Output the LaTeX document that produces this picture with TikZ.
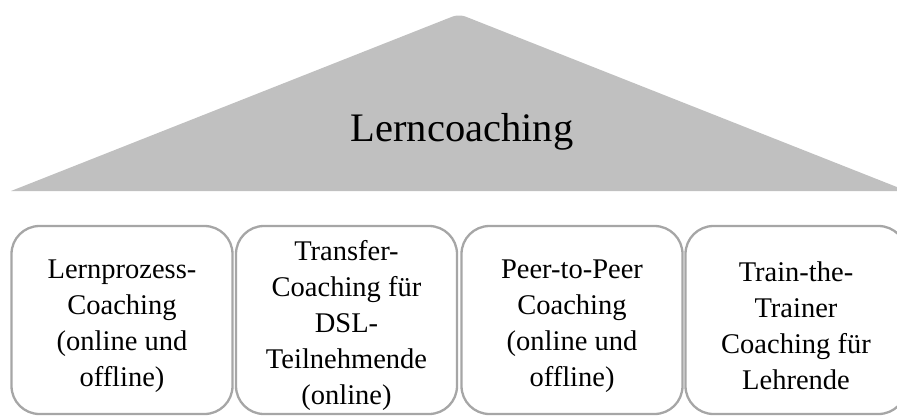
\documentclass[tikz,border=0pt]{standalone}
\usepackage{fontspec}
\setmainfont{Liberation Serif}
\definecolor{roofgray}{RGB}{192,192,192}
\definecolor{boxgray}{RGB}{166,166,166}

\tikzset{
	coachbox/.style={draw=boxgray,line width=2.3pt,fill=white,rounded corners=28pt,
		minimum width=221pt,minimum height=188pt,inner sep=0pt},
	coachtext/.style={inner sep=0pt,align=center,font=\fontsize{28.5}{36}\selectfont},
}

\begin{document}
\begin{tikzpicture}[x=1pt,y=-1pt]
			\useasboundingbox (0,0) rectangle (897,416);
			\clip (0,0) rectangle (897,416);
			% Dach
			\fill[roofgray] (11,191) [rounded corners=7pt] -- (459,14) [sharp corners] -- (907,191) -- cycle;
			\node[anchor=base,font=\fontsize{40.5}{48}\selectfont] (dach) at (462,141) {Lerncoaching};
			% Saeulen
			\node[coachbox] (lernprozess) at (122,320) {};
			\node[coachtext] (lernprozesstext) at ([yshift=-6pt]lernprozess.center) {Lernprozess-\\Coaching\\(online und\\offline)};
			\node[coachbox] (transfer) at (346.5,320) {};
			\node[coachtext] (transfertext) at ([yshift=-5pt]transfer.center) {Transfer-\\Coaching für\\DSL-\\Teilnehmende\\(online)};
			\node[coachbox] (peer) at (572,320) {};
			\node[coachtext] (peertext) at ([yshift=-6pt]peer.center) {Peer-to-Peer\\Coaching\\(online und\\offline)};
			\node[coachbox] (trainer) at (796,320) {};
			\node[coachtext] (trainertext) at ([yshift=-6pt]trainer.center) {Train-the-\\Trainer\\Coaching für\\Lehrende};
		\end{tikzpicture}
\end{document}
